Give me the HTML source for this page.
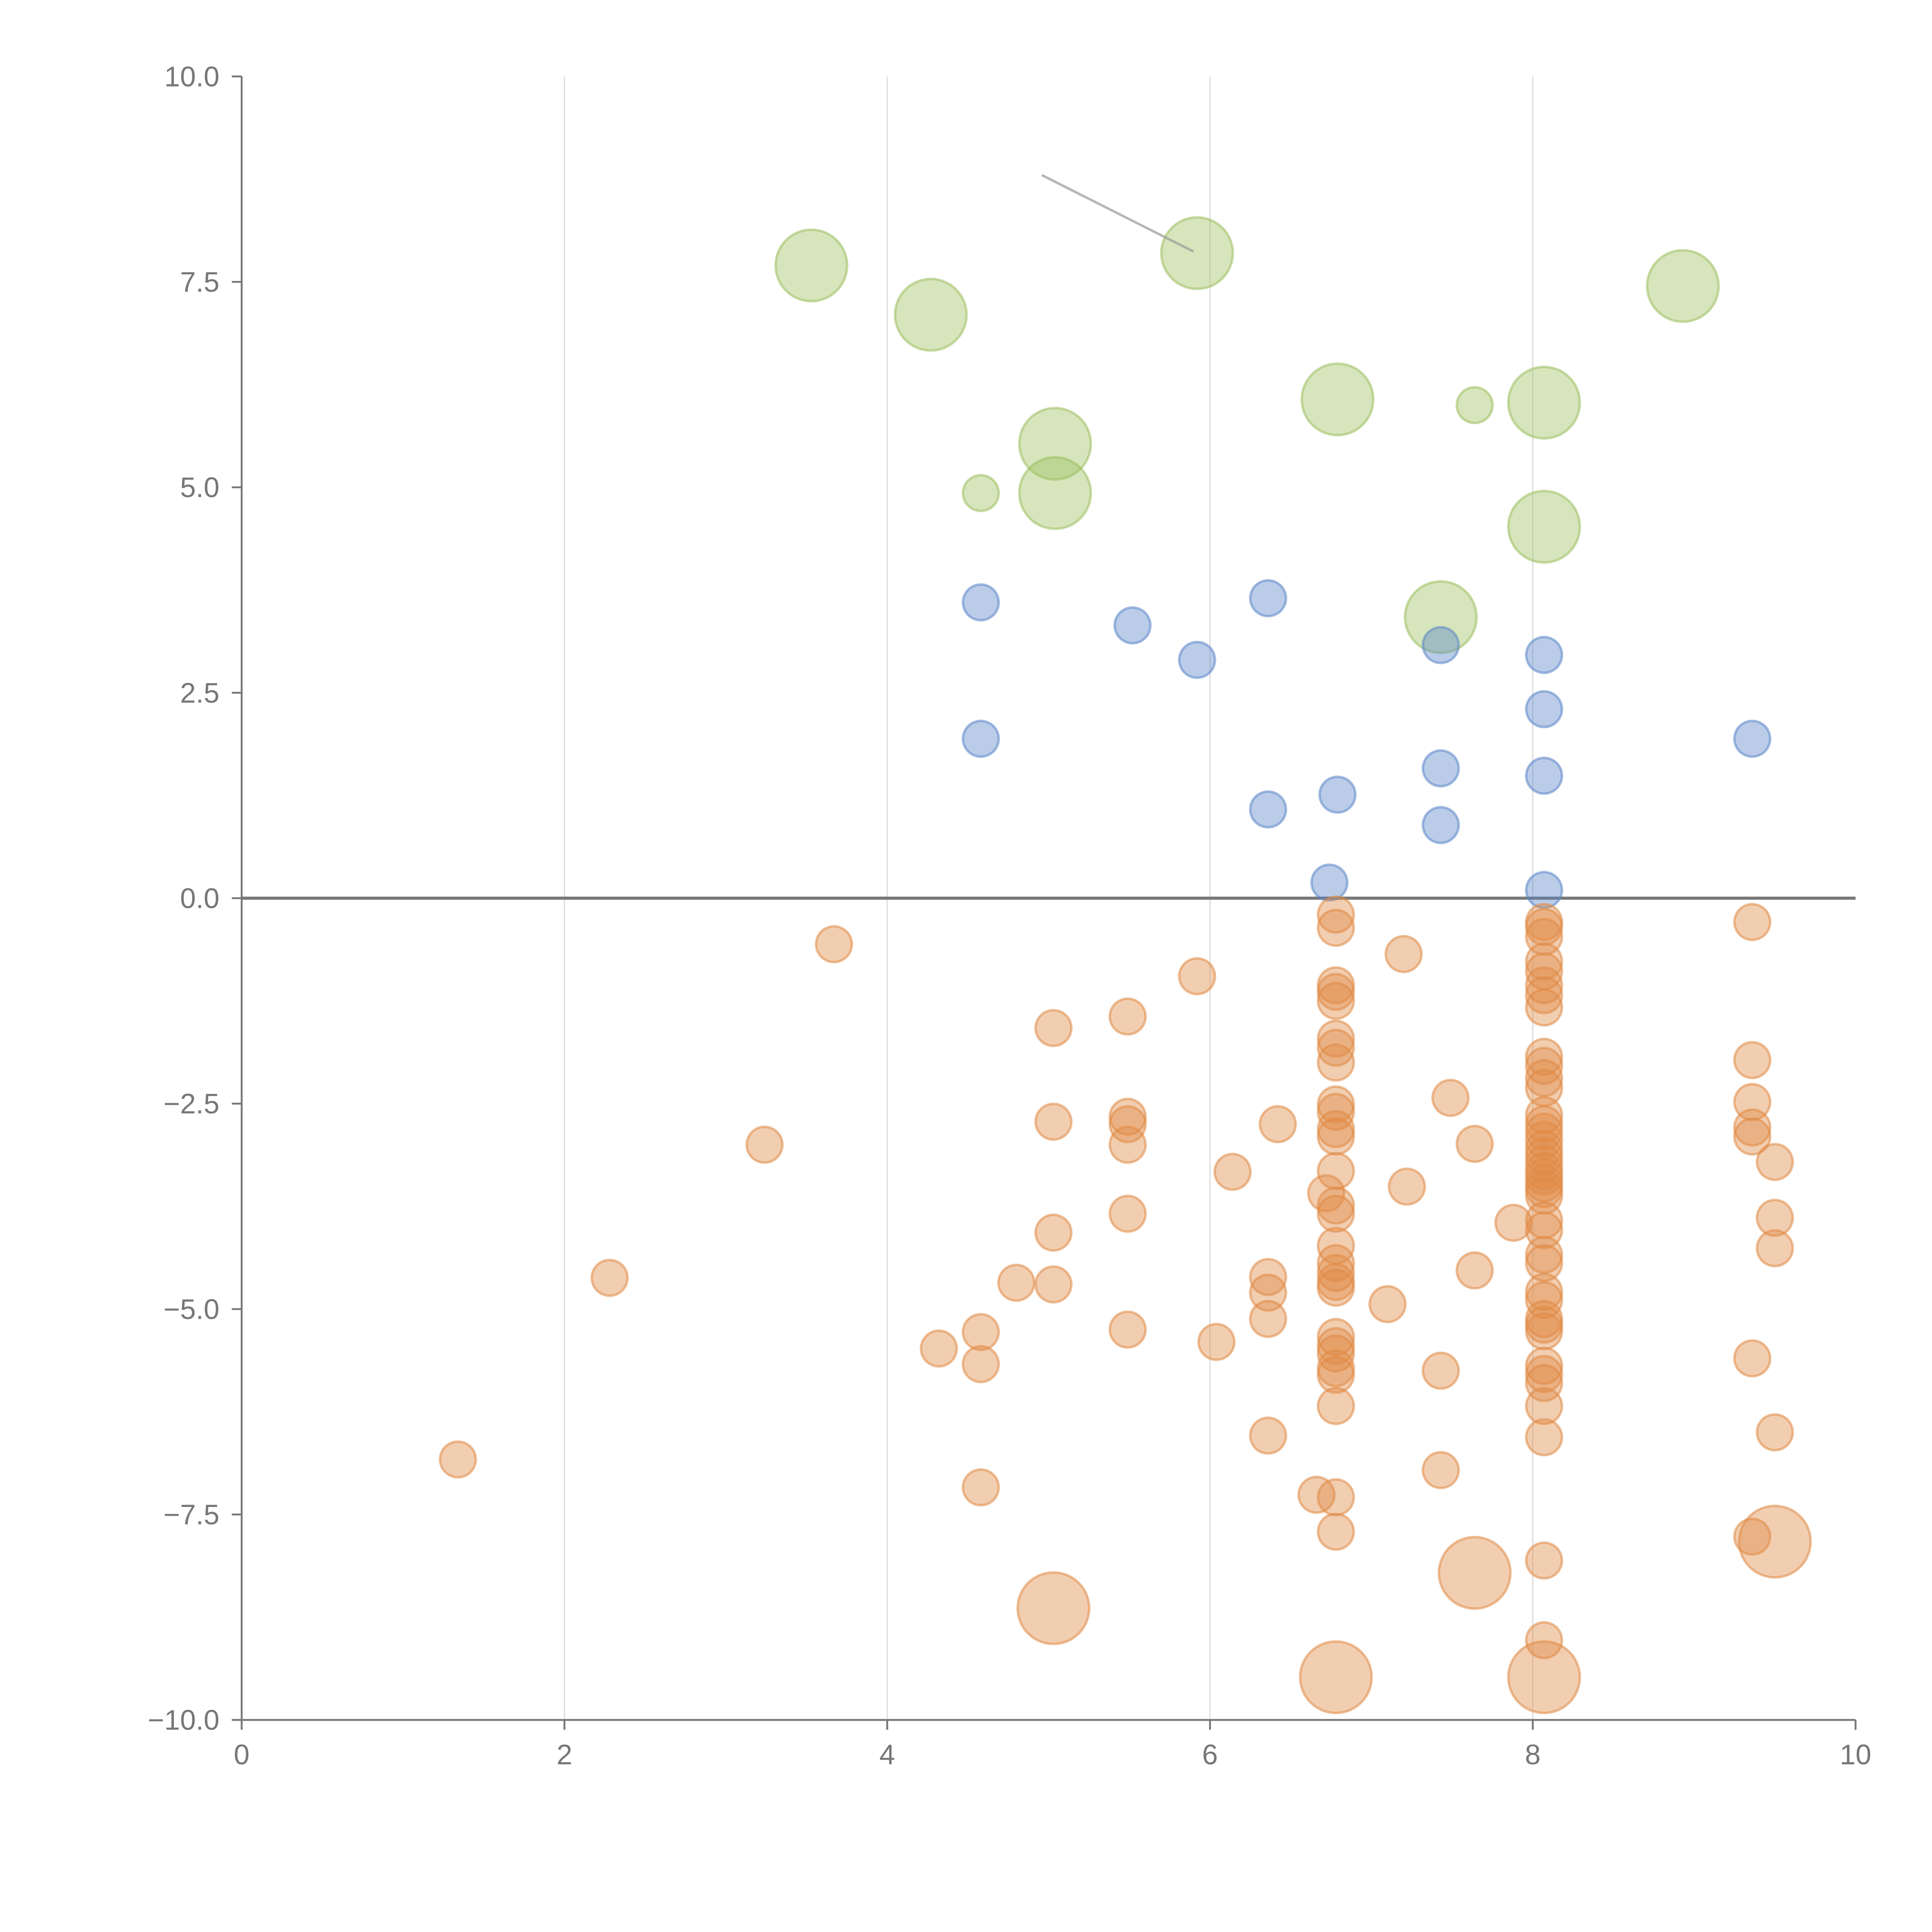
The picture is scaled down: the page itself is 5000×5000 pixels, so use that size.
<!DOCTYPE html>
<html><head><meta charset="utf-8"><style>
html,body{margin:0;padding:0;background:#fff;}
svg{display:block;}
text{font-family:"Liberation Sans",sans-serif;fill:#777;}
</style></head>
<body>
<svg id="chart" width="5000" height="5000" viewBox="0 0 1567 1567" xmlns="http://www.w3.org/2000/svg">
<g id="grid"></g>
<g id="axes"></g>
<g id="marks"></g>
</svg>
<script>
const xTicks=[0,2,4,6,8,10];
const xTickLabels=["0","2","4","6","8","10"];
const yTicks=[10,7.5,5,2.5,0,-2.5,-5,-7.5,-10];
const yTickLabels=["10.0","7.5","5.0","2.5","0.0","\u22122.5","\u22125.0","\u22127.5","\u221210.0"];
const greenX=[3.53,4.27,5.92,8.93,6.79,7.64,8.07,5.04,4.58,5.04,8.07,7.43];
const greenY=[7.7,7.1,7.85,7.45,6.07,6.0,6.03,5.53,4.93,4.93,4.52,3.42];
const greenS=[4,4,4,4,4,1,4,4,1,4,4,4];
const blueX=[4.58,5.52,5.92,6.36,7.43,8.07,8.07,4.58,9.36,7.43,8.07,6.79,6.36,7.43,6.74,8.07];
const blueY=[3.6,3.32,2.9,3.65,3.08,2.96,2.3,1.94,1.94,1.58,1.49,1.26,1.08,0.89,0.19,0.1];
const orangeX=[3.67,5.92,5.03,5.49,3.24,5.03,5.49,5.49,5.49,6.14,6.42,5.49,5.03,2.28,4.80,5.03,4.58,4.32,4.58,5.49,6.04,6.36,6.36,6.36,6.36,4.58,1.34,6.66,6.78,6.78,7.43,7.43,7.10,7.64,7.22,7.64,7.49,7.20,7.88,8.07,8.07,9.36,9.36,9.36,9.36,9.36,9.50,9.50,9.50,9.36,9.50,9.36,
6.78,6.78,6.78,6.78,6.78,6.78,6.78,6.78,6.78,6.78,6.78,6.78,6.78,6.78,6.78,6.78,6.78,6.78,6.78,6.78,6.78,6.78,6.78,6.78,6.78,6.78,6.72,
8.07,8.07,8.07,8.07,8.07,8.07,8.07,8.07,8.07,8.07,8.07,8.07,8.07,8.07,8.07,8.07,8.07,8.07,8.07,8.07,8.07,8.07,8.07,8.07,8.07,8.07,8.07,8.07,8.07,8.07,8.07,8.07,8.07,8.07,8.07,8.07,8.07,8.07,
5.03,6.78,7.64,8.07,9.50];
const orangeY=[-0.56,-0.95,-1.58,-1.44,-3.0,-2.72,-2.66,-2.75,-3.0,-3.33,-2.75,-3.84,-4.07,-4.62,-4.68,-4.70,-5.28,-5.48,-5.67,-5.25,-5.40,-4.61,-4.80,-5.12,-6.54,-7.17,-6.83,-7.26,-7.29,-7.71,-6.96,-5.75,-4.94,-4.53,-3.51,-2.99,-2.43,-0.68,-3.95,-8.06,-9.03,-0.29,-1.97,-2.48,-2.79,-2.90,-3.21,-3.89,-4.26,-5.60,-6.50,-7.77,
-0.20,-0.36,-1.06,-1.14,-1.25,-1.71,-1.82,-2.0,-2.51,-2.60,-2.81,-2.90,-3.32,-3.74,-3.84,-4.23,-4.44,-4.56,-4.67,-4.74,-5.34,-5.45,-5.54,-5.72,-5.80,-6.18,-3.59,
-0.29,-0.35,-0.47,-0.77,-0.89,-1.06,-1.18,-1.33,-1.93,-2.04,-2.19,-2.31,-2.64,-2.75,-2.84,-2.94,-3.05,-3.14,-3.23,-3.32,-3.39,-3.47,-3.54,-3.62,-3.92,-4.04,-4.34,-4.44,-4.79,-4.89,-5.12,-5.19,-5.27,-5.69,-5.79,-5.90,-6.18,-6.56,
-8.64,-9.48,-8.21,-9.48,-7.83];
const orangeBigCount=5;

const X0=196,X1=1505,Y0=1395,Y1=62;
const sx=v=>X0+(v-0)/(10-0)*(X1-X0);
const sy=v=>Y0-(v+10)/20*(Y0-Y1);
const rs=s=>14.5*Math.sqrt(s);
const NS="http://www.w3.org/2000/svg";
function mk(tag,attrs,parent){const e=document.createElementNS(NS,tag);for(const k in attrs)e.setAttribute(k,attrs[k]);parent.appendChild(e);return e;}
const grid=document.getElementById('grid'),axes=document.getElementById('axes'),marks=document.getElementById('marks');

xTicks.forEach((t,i)=>{
  if(t>0&&t<10){const g=mk('line',{x1:sx(t),x2:sx(t),y1:Y1,y2:Y0,stroke:'#ddd','stroke-width':1},grid);
  
  }
  const tk=mk('line',{x1:sx(t),x2:sx(t),y1:Y0,y2:Y0+8,stroke:'#777','stroke-width':1.5},axes);
  
  
  const tx=mk('text',{x:sx(t),y:Y0+36,'text-anchor':'middle','font-size':23},axes);
  tx.textContent=xTickLabels[i];
  
  
});
yTicks.forEach((t,i)=>{
  const tk=mk('line',{x1:X0-8,x2:X0,y1:sy(t),y2:sy(t),stroke:'#777','stroke-width':1.5},axes);
  
  
  const tx=mk('text',{x:X0-18,y:sy(t)+8,'text-anchor':'end','font-size':23},axes);
  tx.textContent=yTickLabels[i];
  
  
});
const ls=mk('line',{x1:X0,x2:X0,y1:Y1,y2:Y0,stroke:'#777','stroke-width':1.5},axes);


const bs=mk('line',{x1:X0,x2:X1,y1:Y0,y2:Y0,stroke:'#777','stroke-width':1.5},axes);


const zl=mk('line',{x1:X0,x2:X1,y1:sy(0),y2:sy(0),stroke:'#777','stroke-width':2.5},axes);



function draw(xs,ys,sizes,fill,stroke,name){
  xs.forEach((x,i)=>{
    const c=mk('circle',{cx:sx(x),cy:sy(ys[i]),r:rs(sizes(i)),fill:fill,'fill-opacity':0.42,stroke:stroke,'stroke-opacity':0.55,'stroke-width':2},marks);
    
    
  });
}
draw(greenX,greenY,i=>greenS[i],'#9dc060','#9dc060','green-bubble');
draw(blueX,blueY,i=>1,'#5b86c8','#5b86c8','blue-bubble');
draw(orangeX,orangeY,i=>i>=orangeX.length-orangeBigCount?4:1,'#e08a45','#e08a45','orange-bubble');

const ann=mk('line',{x1:845,y1:142,x2:968,y2:204,stroke:'#999','stroke-opacity':0.7,'stroke-width':2},marks);


</script>
</body></html>
